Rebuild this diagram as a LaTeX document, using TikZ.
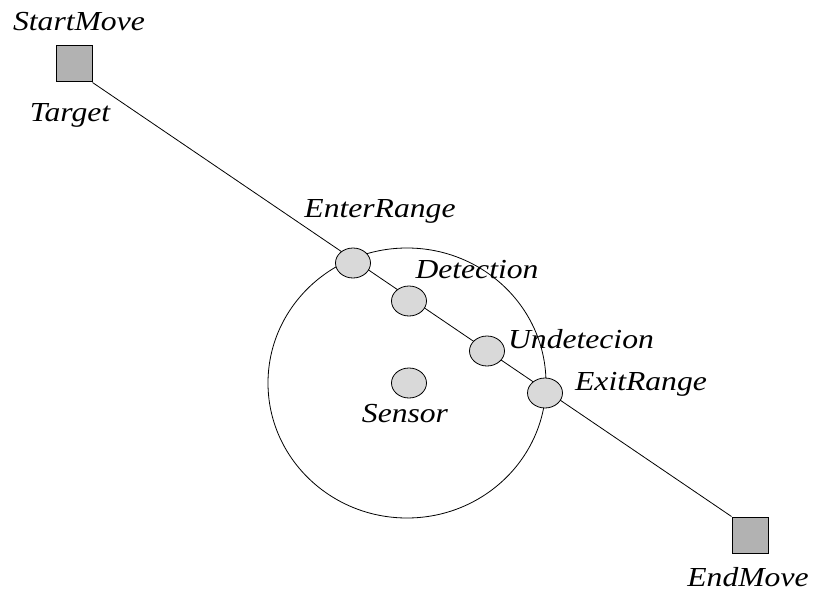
\documentclass[tikz,border=0pt]{standalone}
\usepackage{fontspec}
\setmainfont{Liberation Serif}[FakeStretch=1.15]
\usetikzlibrary{shapes.geometric}
\tikzset{
  movebox/.style={draw,fill=gray!60,line width=1pt,minimum size=36pt,inner sep=0pt},
  event/.style={draw,ellipse,fill=gray!30,line width=0.8pt,minimum width=35pt,minimum height=30pt,inner sep=0pt},
  tag/.style={font=\fontsize{27.5}{30}\selectfont\itshape,inner sep=0pt}
}
\begin{document}
\begin{tikzpicture}[x=1pt,y=-1pt]
          \useasboundingbox[fill=white] (0,0) rectangle (822,591);
          \node[draw,ellipse,line width=0.8pt,minimum width=278pt,minimum height=270pt] at (407,383) (range) {};
          \node[movebox] at (74,64) (start) {};
          \node[movebox] at (750,535) (end) {};
          \path[line width=0.8pt] (start.south east) edge (end.north west);
          \node[event] at (353,263) (enter) {};
          \node[event] at (409,301) (detect) {};
          \node[event] at (487,351) (undetect) {};
          \node[event] at (545,393) (exit) {};
          \node[event] at (409,383) (sensor) {};
          \node[tag] at (79,22) (startlbl) {StartMove};
          \node[tag] at (70,115) (targetlbl) {Target};
          \node[tag] at (380,211) (enterlbl) {EnterRange};
          \node[tag] at (477,270) (detectlbl) {Detection};
          \node[tag] at (581,339) (undetectlbl) {Undetecion};
          \node[tag] at (641,384) (exitlbl) {ExitRange};
          \node[tag] at (405,414) (sensorlbl) {Sensor};
          \node[tag] at (748,577) (endlbl) {EndMove};
        \end{tikzpicture}
\end{document}
